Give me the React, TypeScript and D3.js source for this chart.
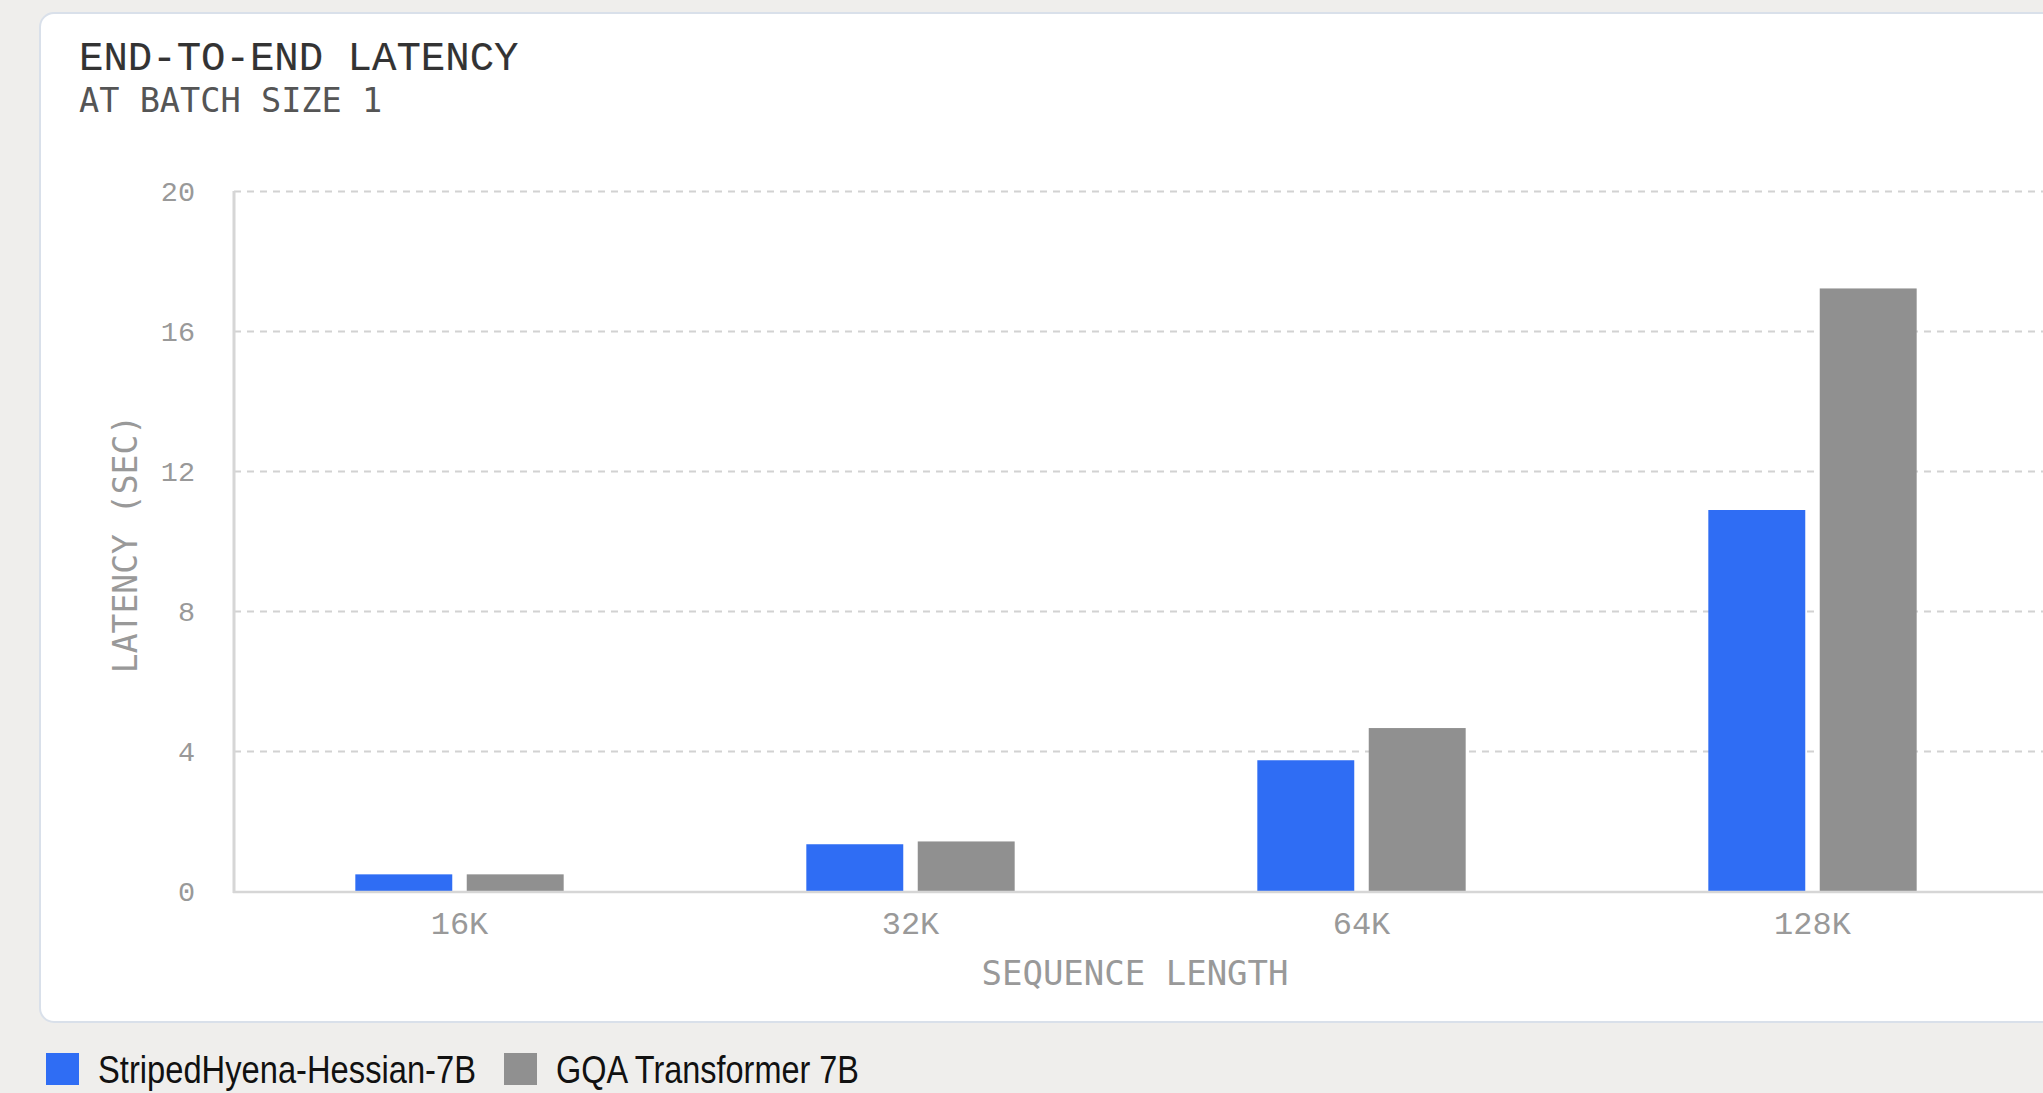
import React from "react";
import * as d3 from "d3";

const categories = ["16K", "32K", "64K", "128K"];
const seriesNames = ["StripedHyena-Hessian-7B", "GQA Transformer 7B"];
const stripedHyena = [0.49, 1.35, 3.75, 10.9];
const gqaTransformer = [0.49, 1.43, 4.67, 17.23];
const yTicks = [0, 4, 8, 12, 16, 20];
const seriesColors = ["#2f6df4", "#909090"];

const W = 2043;
const H = 1093;

export default function App() {
  const values = [stripedHyena, gqaTransformer];
  const x0 = d3
    .scaleBand<string>()
    .domain(categories)
    .range([234, 2038])
    .paddingInner(0.538)
    .paddingOuter(0.269);
  const x1 = d3
    .scaleBand<string>()
    .domain(seriesNames)
    .range([0, x0.bandwidth()])
    .paddingInner(0.13);
  const y = d3.scaleLinear().domain([0, 20]).range([891.5, 191.5]);

  const legendWidths = [378, 303];
  const legendX = [46, 504];

  return (
    <svg
      width={W}
      height={H}
      style={{ position: "absolute", left: 0, top: 0, display: "block" }}
    >
      <rect x={0} y={0} width={W} height={H} fill="#efeeec" />
      <rect
        x={40}
        y={13}
        width={W + 40}
        height={1009}
        rx={14}
        fill="#ffffff"
        stroke="#d9e0ea"
        strokeWidth={2}
      />
      <text
        x={79}
        y={70}
        fontFamily="'Liberation Mono', monospace"
        fontSize={40.7}
        fill="#333333"
        stroke="#333333"
        strokeWidth={0.15}
      >
        END-TO-END LATENCY
      </text>
      <text
        x={79}
        y={112}
        fontFamily="'DejaVu Sans Mono', monospace"
        fontSize={33.6}
        fill="#555555"
      >
        AT BATCH SIZE 1
      </text>

      {/* gridlines */}
      {yTicks
        .filter((t) => t > 0)
        .map((t) => (
          <line
            key={"g" + t}
            x1={234}
            x2={W}
            y1={y(t)}
            y2={y(t)}
            stroke="#d2d2d2"
            strokeWidth={2}
            strokeDasharray="7,6"
          />
        ))}

      {/* y tick labels */}
      {yTicks.map((t) => (
        <text
          key={"yl" + t}
          x={195}
          y={y(t) + 9}
          textAnchor="end"
          fontFamily="'Liberation Mono', monospace"
          fontSize={28.5}
          fill="#999999"
        >
          {String(t)}
        </text>
      ))}

      {/* bars */}
      {categories.map((c, i) => (
        <g key={c} transform={`translate(${x0(c)},0)`}>
          {seriesNames.map((s, j) => (
            <rect
              key={s}
              x={x1(s)}
              y={y(values[j][i])}
              width={x1.bandwidth()}
              height={y(0) - y(values[j][i])}
              fill={seriesColors[j]}
            />
          ))}
        </g>
      ))}

      {/* axes lines */}
      <line x1={234} x2={234} y1={191} y2={893} stroke="#d6d6d6" strokeWidth={3} />
      <line x1={233} x2={W} y1={892} y2={892} stroke="#d6d6d6" strokeWidth={2.5} />

      {/* x tick labels */}
      {categories.map((c) => (
        <text
          key={"xl" + c}
          x={(x0(c) as number) + x0.bandwidth() / 2}
          y={934}
          textAnchor="middle"
          fontFamily="'Liberation Mono', monospace"
          fontSize={32}
          fill="#999999"
        >
          {c}
        </text>
      ))}

      {/* axis titles */}
      <text
        x={1135}
        y={985}
        textAnchor="middle"
        fontFamily="'DejaVu Sans Mono', monospace"
        fontSize={34}
        fill="#999999"
      >
        SEQUENCE LENGTH
      </text>
      <text
        transform="translate(137,544) rotate(-90)"
        textAnchor="middle"
        fontFamily="'DejaVu Sans Mono', monospace"
        fontSize={33}
        fill="#999999"
      >
        LATENCY (SEC)
      </text>

      {/* legend */}
      {seriesNames.map((s, j) => (
        <g key={"lg" + s}>
          <rect x={legendX[j]} y={1053} width={33} height={32} fill={seriesColors[j]} />
          <text
            x={legendX[j] + 52}
            y={1083}
            fontFamily="'Liberation Sans', Arial, sans-serif"
            fontSize={39}
            fill="#111111"
            textLength={legendWidths[j]}
            lengthAdjust="spacingAndGlyphs"
          >
            {s}
          </text>
        </g>
      ))}
    </svg>
  );
}
